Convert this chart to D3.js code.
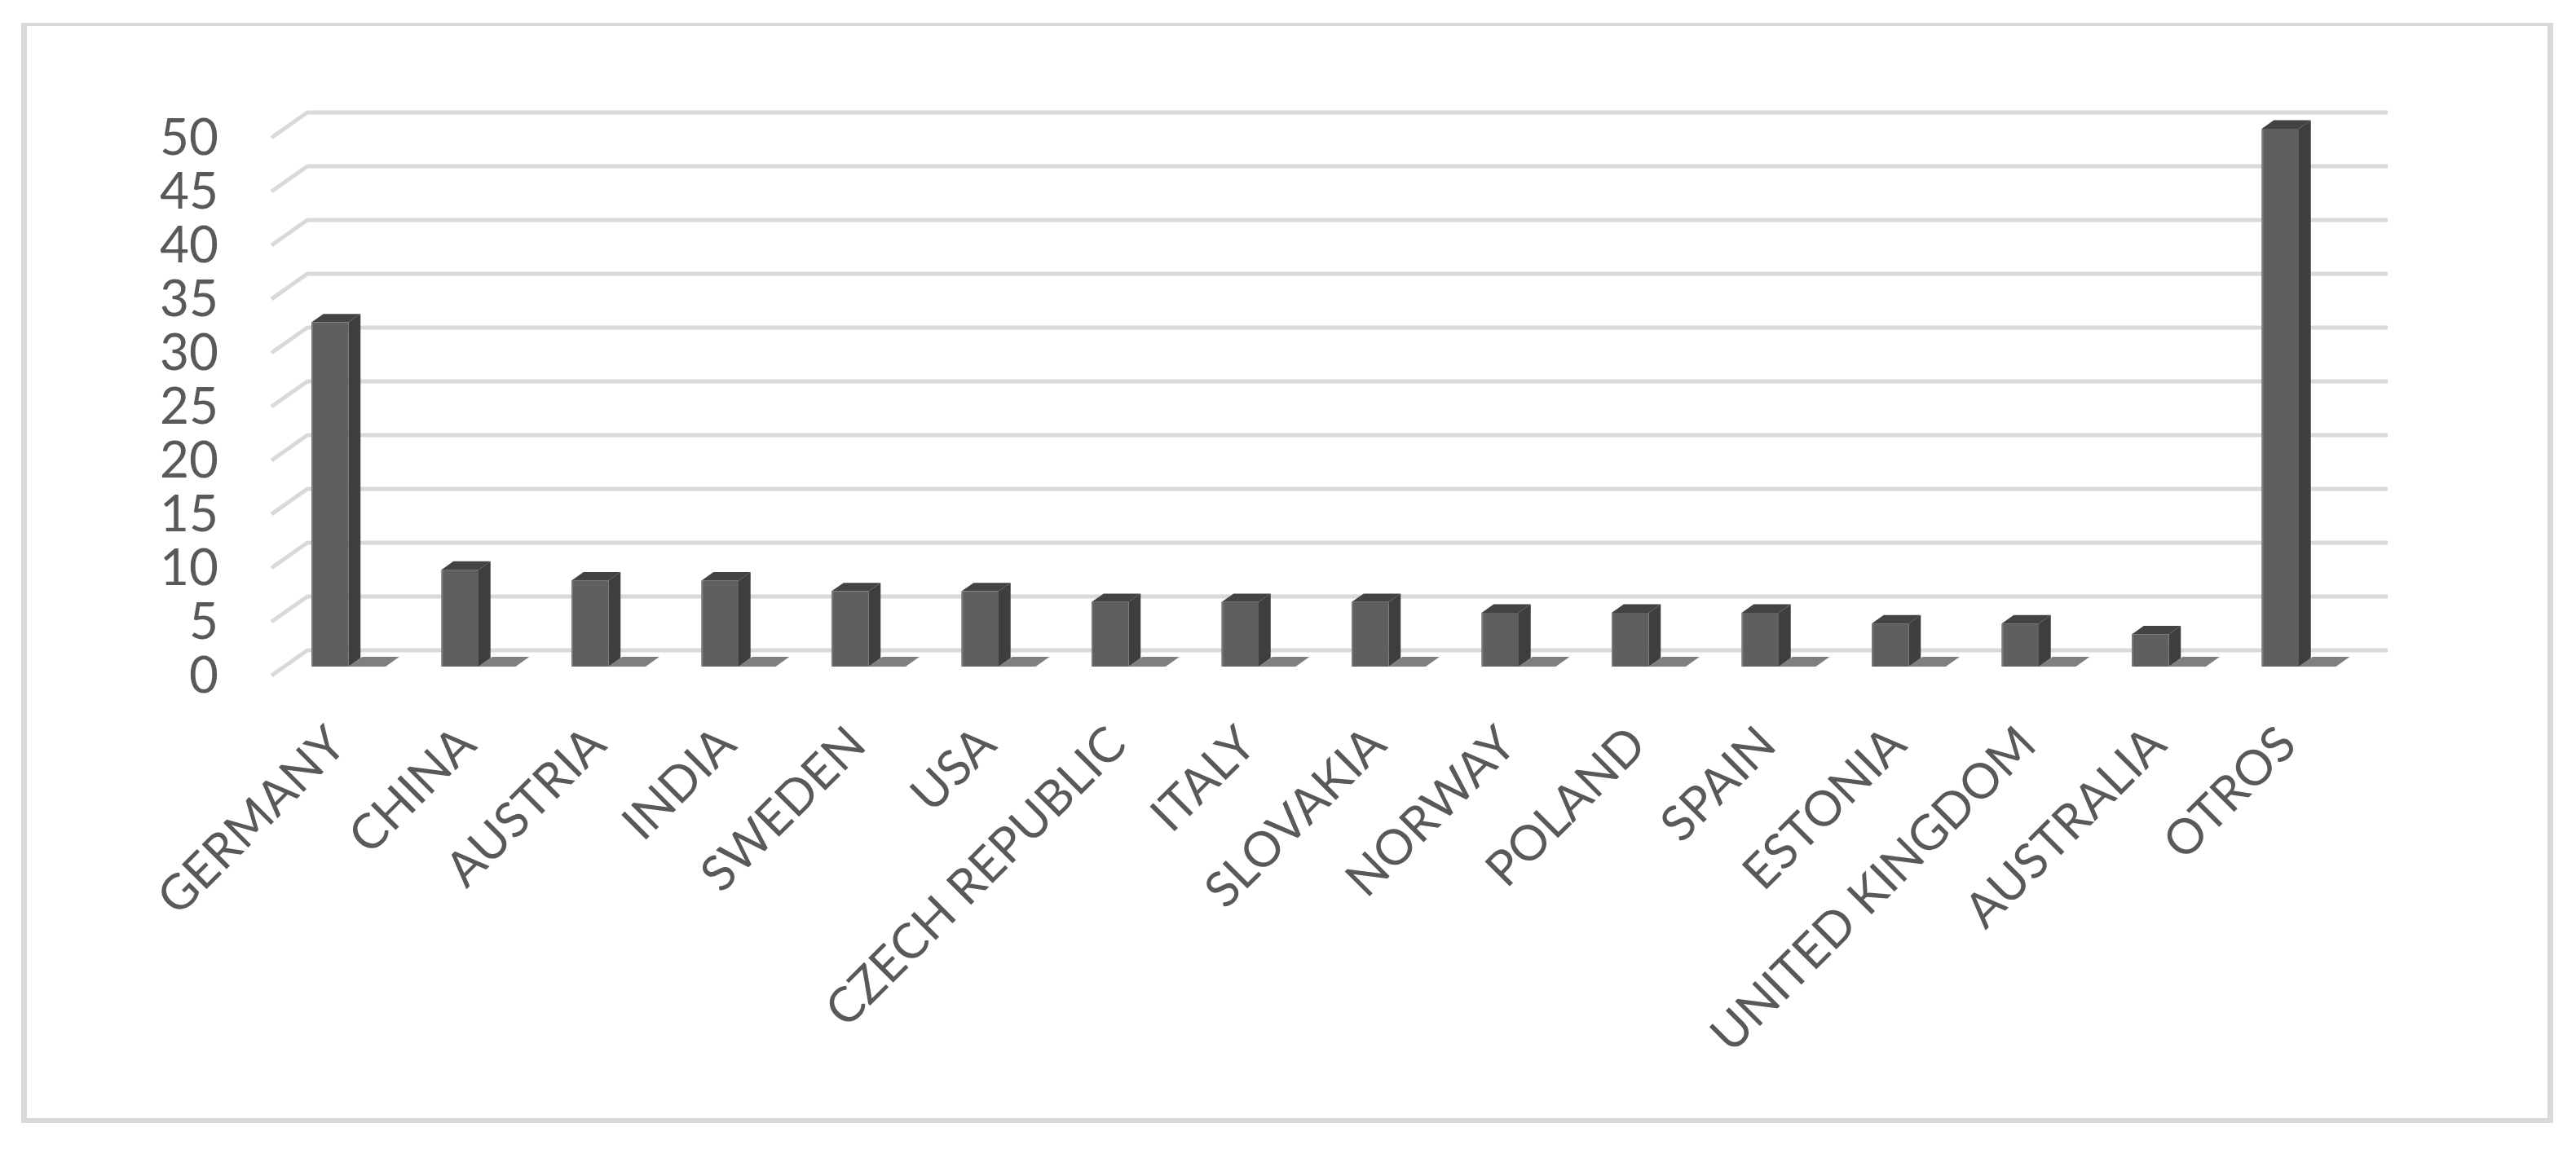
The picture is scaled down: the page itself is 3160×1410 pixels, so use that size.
<!DOCTYPE html>
<html>
<head>
<meta charset="utf-8">
<script src="https://cdn.jsdelivr.net/npm/d3@7/dist/d3.min.js"></script>
<style>
  html, body { margin: 0; padding: 0; background: #ffffff; }
  svg { display: block; }
</style>
</head>
<body>
<script>
// ---- data ----
const categories = ["GERMANY", "CHINA", "AUSTRIA", "INDIA", "SWEDEN", "USA", "CZECH REPUBLIC",
  "ITALY", "SLOVAKIA", "NORWAY", "POLAND", "SPAIN", "ESTONIA", "UNITED KINGDOM", "AUSTRALIA", "OTROS"];
const values = [32, 9, 8, 8, 7, 7, 6, 6, 6, 5, 5, 5, 4, 4, 3, 50];
const yTicks = [0, 5, 10, 15, 20, 25, 30, 35, 40, 45, 50];

// ---- layout ----
const W = 3160, H = 1410;
const DX = 44, DY = 31;          // full depth offset of the 3D floor
const F1 = 0.355, F2 = 0.69;     // bar front/back depth fractions
const FONT = "Lato, 'Open Sans', sans-serif";
const TEXT = "#595959";
const GRID = "#d9d9d9";

const svg = d3.select("body").append("svg")
  .attr("width", W).attr("height", H)
  .attr("viewBox", `0 0 ${W} ${H}`);

svg.append("rect").attr("width", W).attr("height", H).attr("fill", "#ffffff");

// outer border
const border = svg.append("g").attr("fill", "#d9d9d9");
border.append("rect").attr("x", 26).attr("y", 28).attr("width", 3132 - 26).attr("height", 4);
border.append("rect").attr("x", 26).attr("y", 28).attr("width", 7).attr("height", 1378 - 28);
border.append("rect").attr("x", 3125).attr("y", 28).attr("width", 7).attr("height", 1378 - 28);
border.append("rect").attr("x", 26).attr("y", 1372).attr("width", 3132 - 26).attr("height", 6);

// scales (front plane)
const x = d3.scaleBand().domain(categories).range([333, 2885]).paddingInner(0).paddingOuter(0);
const y = d3.scaleLinear().domain([0, 50]).range([829, 169]);

const barOffset = x.step() * 0.2095;
const barW = x.step() * 0.285;

// projection of a 3D point (front-plane x, value, depth fraction)
const P = (xx, v, d) => [xx + DX * d, y(v) - DY * d];

// gridlines
const grid = svg.append("g");
yTicks.forEach(t => {
  const [x0, y0] = P(x.range()[0], t, 0);
  const [x1, y1] = P(x.range()[0], t, 1);
  const [x2, y2] = P(x.range()[1], t, 1);
  grid.append("path")
    .attr("d", `M${x0},${y0}L${x1},${y1}L${x2},${y2}`)
    .attr("fill", "none").attr("stroke", GRID).attr("stroke-width", 5)
    .attr("stroke-linejoin", "round");
});

// y labels
svg.append("g").selectAll("text").data(yTicks).join("text")
  .attr("x", 268).attr("y", d => y(d) + 21)
  .attr("text-anchor", "end")
  .attr("font-family", FONT).attr("font-size", 62).attr("fill", TEXT)
  .text(d => d);

// bars
const bars = svg.append("g");
const poly = pts => "M" + pts.map(p => p.join(",")).join("L") + "Z";
categories.forEach((c, i) => {
  const v = values[i];
  const xl = x(c) + barOffset, xr = xl + barW;
  // floor shadow
  bars.append("path")
    .attr("d", poly([P(xr, 0, F1), P(xr + barW, 0, F1), P(xr + barW, 0, F2 + 0.05), P(xr, 0, F2 + 0.05)]))
    .attr("fill", "#7f7f7f");
  // side face
  bars.append("path")
    .attr("d", poly([P(xr, 0, F1), P(xr, 0, F2), P(xr, v, F2), P(xr, v, F1)]))
    .attr("fill", "#3e3e3e");
  // top face
  bars.append("path")
    .attr("d", poly([P(xl, v, F1), P(xr, v, F1), P(xr, v, F2), P(xl, v, F2)]))
    .attr("fill", "#434343");
  // front face
  const [fx, fy] = P(xl, v, F1);
  const [, fb] = P(xl, 0, F1);
  bars.append("rect")
    .attr("x", fx).attr("y", fy).attr("width", barW).attr("height", fb - fy)
    .attr("fill", "#5f5f5f");
  bars.append("line")
    .attr("x1", fx + 1).attr("x2", fx + 1).attr("y1", fy).attr("y2", fb)
    .attr("stroke", "#7a7a7a").attr("stroke-width", 2);
});

// x labels
svg.append("g").selectAll("text").data(categories).join("text")
  .attr("transform", d => {
    const ax = x(d) + barOffset + barW + DX * F1;
    return `translate(${ax},917) rotate(-45)`;
  })
  .attr("text-anchor", "end")
  .attr("font-family", FONT).attr("font-size", 60).attr("fill", TEXT)
  .text(d => d);
</script>
</body>
</html>
